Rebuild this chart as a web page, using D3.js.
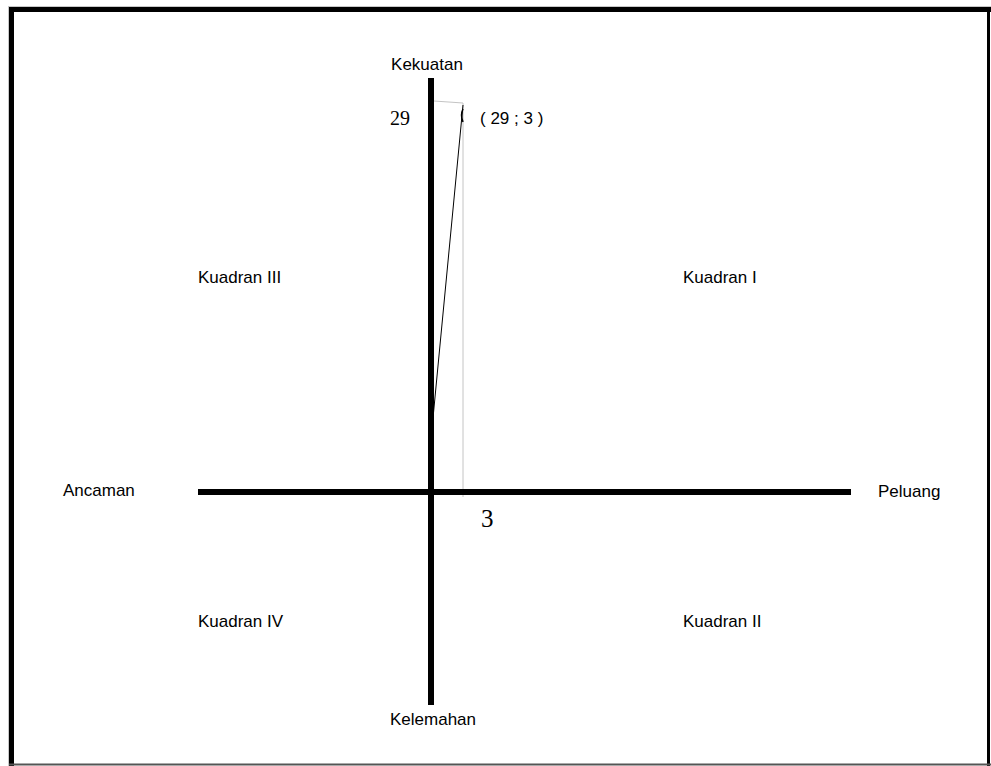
<!DOCTYPE html>
<html>
<head>
<meta charset="utf-8">
<script src="https://cdn.jsdelivr.net/npm/d3@7"></script>
<style>
  html, body { margin: 0; padding: 0; background: #fff; }
  svg { display: block; }
  text { font-family: "Liberation Sans", Arial, sans-serif; fill: #000; }
  .serif { font-family: "Liberation Serif", "Times New Roman", serif; }
</style>
</head>
<body>
<svg id="chart" width="991" height="766"></svg>
<script>
// ---- data ----
const axisLabels = ["Kekuatan", "Kelemahan", "Peluang", "Ancaman"];
const quadrantLabels = ["Kuadran I", "Kuadran II", "Kuadran III", "Kuadran IV"];
const pointOpportunity = [3];      // x value (Peluang)
const pointStrength = [29];        // y value (Kekuatan)
const pointLabels = ["( 29 ; 3 )"];
const xTickLabels = ["3"];
const yTickLabels = ["29"];
const lineStart = [0, 5.5];        // lower end of the thin line on the Kekuatan axis

// ---- layout ----
const W = 991, H = 766;
const svg = d3.select("#chart");

const x = d3.scaleLinear().domain([0, 3]).range([431, 463]);
const y = d3.scaleLinear().domain([0, 29]).range([492, 102]);

// frame
svg.append("line").attr("x1", 8).attr("x2", 991).attr("y1", 6.5).attr("y2", 6.5)
  .attr("stroke", "#c8c8c8").attr("stroke-width", 1);
svg.append("line").attr("x1", 8.5).attr("x2", 8.5).attr("y1", 6).attr("y2", 766)
  .attr("stroke", "#c8c8c8").attr("stroke-width", 1);
svg.append("line").attr("x1", 9).attr("x2", 991).attr("y1", 9.5).attr("y2", 9.5)
  .attr("stroke", "#000").attr("stroke-width", 5);
svg.append("line").attr("x1", 11.5).attr("x2", 11.5).attr("y1", 7).attr("y2", 766)
  .attr("stroke", "#000").attr("stroke-width", 5);
svg.append("line").attr("x1", 988.5).attr("x2", 988.5).attr("y1", 7).attr("y2", 766)
  .attr("stroke", "#000").attr("stroke-width", 3);
svg.append("line").attr("x1", 9).attr("x2", 991).attr("y1", 764.5).attr("y2", 764.5)
  .attr("stroke", "#555", ).attr("stroke-width", 2);

// guide lines (gray)
svg.append("line")
  .attr("x1", x(0) + 3).attr("y1", y(pointStrength[0]) - 1)
  .attr("x2", x(pointOpportunity[0])).attr("y2", y(pointStrength[0]) + 1)
  .attr("stroke", "#c4c4c4").attr("stroke-width", 1);
svg.append("line")
  .attr("x1", x(pointOpportunity[0])).attr("y1", y(pointStrength[0]) + 1)
  .attr("x2", x(pointOpportunity[0])).attr("y2", y(0) + 5)
  .attr("stroke", "#c4c4c4").attr("stroke-width", 1);

// main axes
svg.append("line").attr("x1", 198).attr("x2", 851).attr("y1", y(0)).attr("y2", y(0))
  .attr("stroke", "#000").attr("stroke-width", 6);
svg.append("line").attr("x1", x(0)).attr("x2", x(0)).attr("y1", 78).attr("y2", 705)
  .attr("stroke", "#000").attr("stroke-width", 6);

// thin line to the point
svg.append("line")
  .attr("x1", x(lineStart[0]) + 2).attr("y1", y(lineStart[1]))
  .attr("x2", x(pointOpportunity[0])).attr("y2", y(pointStrength[0]) + 3)
  .attr("stroke", "#000").attr("stroke-width", 1);

// small marker at the point
const px = x(pointOpportunity[0]), py = y(pointStrength[0]);
svg.append("path")
  .attr("d", `M${px},${py + 7} Q${px - 3},${py + 13} ${px},${py + 20}`)
  .attr("fill", "none").attr("stroke", "#000").attr("stroke-width", 1.5);

// point label
svg.append("text").attr("x", px + 17).attr("y", py + 22)
  .attr("font-size", 17).text(pointLabels[0]);

// tick labels
svg.append("text").attr("class", "serif").attr("x", 390).attr("y", py + 23)
  .attr("font-size", 20).text(yTickLabels[0]);
svg.append("text").attr("class", "serif").attr("x", px + 18).attr("y", y(0) + 35)
  .attr("font-size", 25).text(xTickLabels[0]);

// axis labels
svg.append("text").attr("x", 427).attr("y", 70).attr("text-anchor", "middle")
  .attr("font-size", 17).text(axisLabels[0]);
svg.append("text").attr("x", 433).attr("y", 725).attr("text-anchor", "middle")
  .attr("font-size", 17).text(axisLabels[1]);
svg.append("text").attr("x", 878).attr("y", 497)
  .attr("font-size", 17).text(axisLabels[2]);
svg.append("text").attr("x", 63).attr("y", 496)
  .attr("font-size", 17).text(axisLabels[3]);

// quadrant labels
const qPos = [[683, 283], [683, 627], [198, 283], [198, 627]];
quadrantLabels.forEach((t, i) => {
  svg.append("text").attr("x", qPos[i][0]).attr("y", qPos[i][1])
    .attr("font-size", 17).text(t);
});
</script>
</body>
</html>
